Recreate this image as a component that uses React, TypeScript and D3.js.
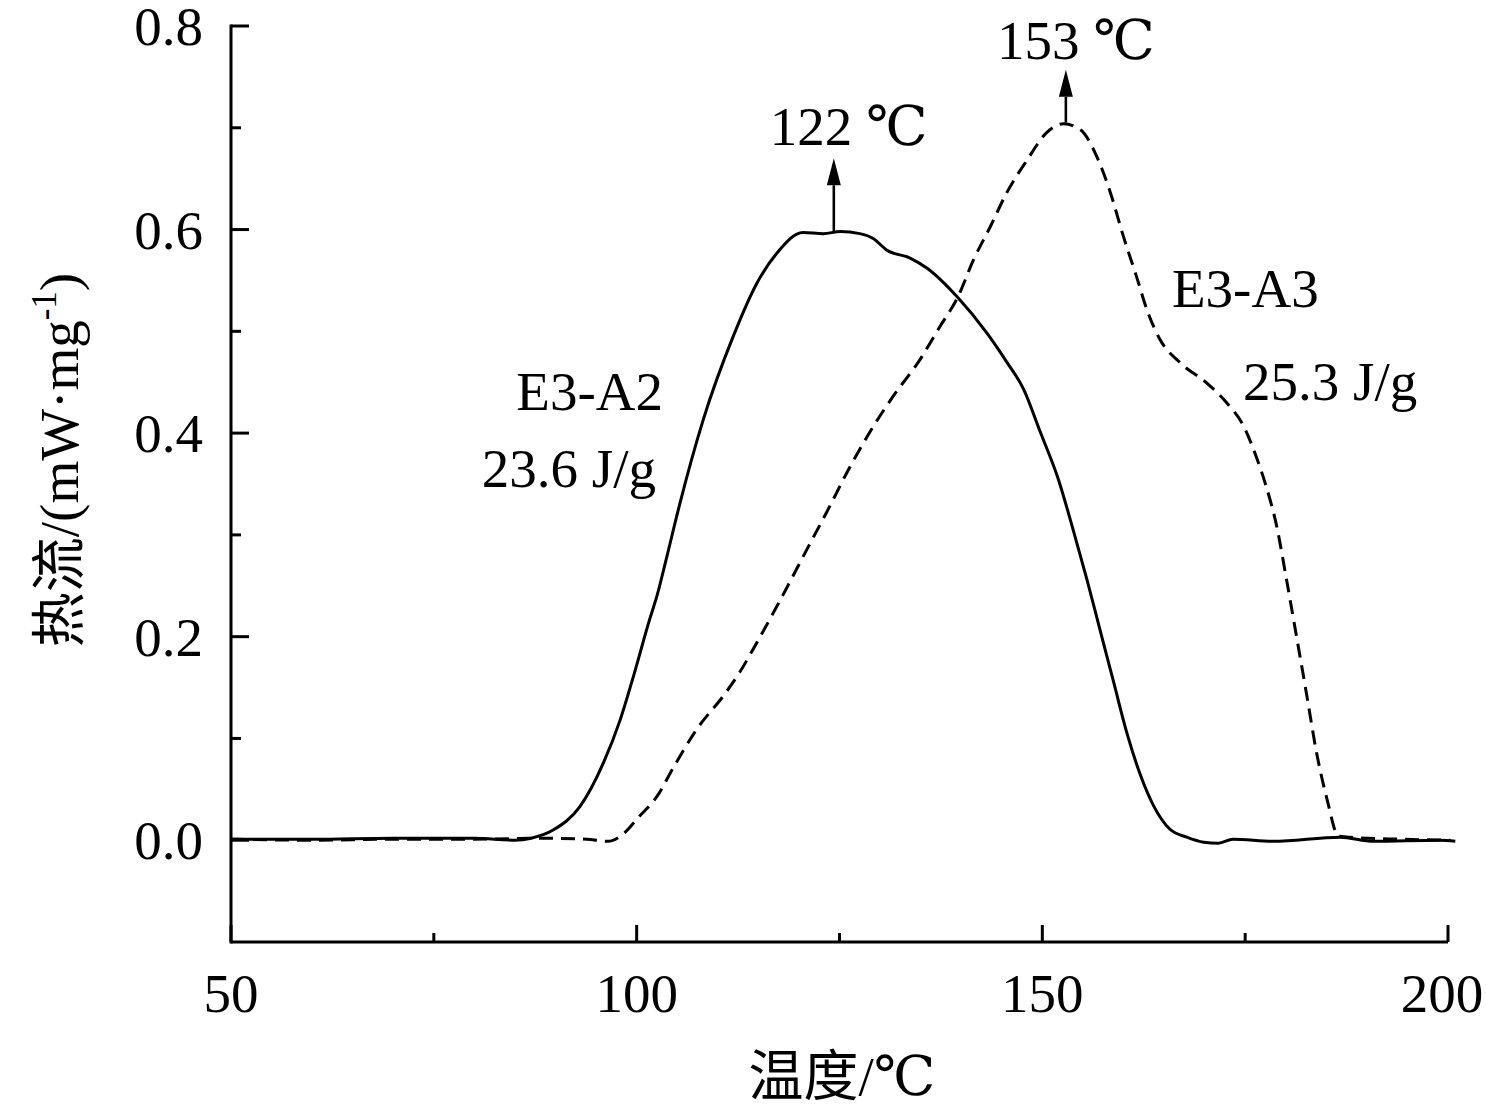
import React from 'react';
import * as d3 from 'd3';

// E3-A2 (solid) : temperature (°C), heat flow (mW/mg)
const a2Temp = [50, 60, 70, 80, 85, 87, 89.7, 93.0, 95.9, 98.0, 99.6, 101.6, 102.5, 103.7, 105.3, 108.2, 111.9, 114.8, 117.3, 120.5, 123.0, 125.1, 127.5, 129.2, 130.8, 133.7, 135.8, 139.5, 143.2, 145.6, 147.7, 149.7, 152.0, 153.8, 155.5, 157.1, 158.8, 160.4, 162.0, 163.7, 165.7, 167.8, 169.9, 171.7, 173.5, 178.5, 186.7, 190.8, 199.0, 200.9];
const a2Flow = [0.001, 0.001, 0.002, 0.002, 0.000, 0.002, 0.010, 0.033, 0.076, 0.119, 0.161, 0.217, 0.240, 0.278, 0.330, 0.413, 0.495, 0.547, 0.577, 0.597, 0.596, 0.598, 0.596, 0.591, 0.580, 0.572, 0.562, 0.534, 0.498, 0.470, 0.443, 0.402, 0.354, 0.305, 0.256, 0.207, 0.155, 0.106, 0.066, 0.034, 0.011, 0.003, -0.002, -0.003, 0.001, -0.001, 0.003, -0.001, 0.000, -0.001];

// E3-A3 (dashed)
const a3Temp = [50, 60, 70, 80, 88.1, 93.8, 96.5, 98.0, 100.4, 102.5, 104.5, 107.4, 110.7, 112.7, 114.8, 117.7, 121.0, 123.4, 126.3, 129.2, 131.6, 134.9, 137.4, 139.6, 141.5, 143.6, 145.6, 148.1, 150.5, 152.6, 154.7, 156.7, 158.4, 160.0, 161.6, 162.9, 164.5, 167.0, 170.3, 172.7, 174.8, 176.4, 177.5, 178.9, 180.1, 181.4, 182.6, 183.8, 185.1, 186.5, 187.9, 194.1, 200.3];
const a3Flow = [0.001, 0.000, 0.001, 0.001, 0.002, 0.001, -0.001, 0.004, 0.024, 0.043, 0.071, 0.109, 0.142, 0.165, 0.194, 0.236, 0.286, 0.322, 0.367, 0.407, 0.436, 0.472, 0.505, 0.534, 0.570, 0.603, 0.636, 0.668, 0.695, 0.704, 0.698, 0.672, 0.636, 0.593, 0.554, 0.521, 0.492, 0.469, 0.449, 0.430, 0.407, 0.376, 0.350, 0.308, 0.256, 0.197, 0.142, 0.086, 0.040, 0.004, 0.003, 0.001, 0.000];

const xMajor = [50, 100, 150, 200];
const xMinor = [75, 125, 175];
const yMajor = [0, 0.2, 0.4, 0.6, 0.8];
const yMinor = [0.1, 0.3, 0.5, 0.7];

// peak arrows: temperature, from, to (heat flow)
const peakLabels = ['122 ℃', '153 ℃'];
const peakArrowT = [124.3, 152.9];
const peakArrowFrom = [0.598, 0.705];
const peakArrowTo = [0.670, 0.757];

const W = 1486;
const H = 1113;
const serif = "'Liberation Serif', 'Times New Roman', 'DejaVu Serif', 'Noto Sans CJK SC', serif";
const FS = 55;

export default function App() {
  const x = d3.scaleLinear().domain([50, 200]).range([231, 1448]);
  const y = d3.scaleLinear().domain([-0.1, 0.8]).range([942, 26]);

  const line = d3.line<[number, number]>()
    .x(d => x(d[0]))
    .y(d => y(d[1]))
    .curve(d3.curveMonotoneX);

  const a2 = a2Temp.map((t, i) => [t, a2Flow[i]] as [number, number]);
  const a3 = a3Temp.map((t, i) => [t, a3Flow[i]] as [number, number]);

  const x0 = x(50);
  const yBottom = y(-0.1);

  return (
    <div style={{ position: 'absolute', left: 0, top: 0, background: '#fff' }}>
      <svg width={W} height={H} style={{ display: 'block' }} fontFamily={serif}>
        <rect width={W} height={H} fill="#fff" />

        {/* curves */}
        <path d={line(a2) || ''} fill="none" stroke="#000" strokeWidth={3} strokeLinejoin="round" />
        <path d={line(a3) || ''} fill="none" stroke="#000" strokeWidth={3} strokeDasharray="14,8" />

        {/* axes */}
        <line x1={x0} x2={x0} y1={y(0.8) - 1.5} y2={yBottom + 1.5} stroke="#000" strokeWidth={3} />
        <line x1={x0} x2={x(200)} y1={yBottom} y2={yBottom} stroke="#000" strokeWidth={3} />

        {yMajor.map(v => (
          <g key={'ym' + v}>
            <line x1={x0} x2={x0 + 18} y1={y(v)} y2={y(v)} stroke="#000" strokeWidth={3} />
            <text x={203} y={y(v)} dy="0.35em" textAnchor="end" fontSize={FS}>{v.toFixed(1)}</text>
          </g>
        ))}
        {yMinor.map(v => (
          <line key={'yn' + v} x1={x0} x2={x0 + 10} y1={y(v)} y2={y(v)} stroke="#000" strokeWidth={3} />
        ))}
        {xMajor.map(t => (
          <g key={'xm' + t}>
            <line x1={x(t)} x2={x(t)} y1={yBottom} y2={yBottom - 17} stroke="#000" strokeWidth={3} />
            <text x={t === 200 ? x(t) - 6 : x(t)} y={1012} textAnchor="middle" fontSize={FS}>{t}</text>
          </g>
        ))}
        {xMinor.map(t => (
          <line key={'xn' + t} x1={x(t)} x2={x(t)} y1={yBottom} y2={yBottom - 9} stroke="#000" strokeWidth={3} />
        ))}

        {/* peak arrows */}
        {peakArrowT.map((t, i) => {
          const ax = x(t);
          const tip = y(peakArrowTo[i]);
          const base = tip + 27;
          return (
            <g key={'arr' + i}>
              <line x1={ax} x2={ax} y1={y(peakArrowFrom[i])} y2={base} stroke="#000" strokeWidth={2.6} />
              <path d={`M${ax},${tip} L${ax - 7},${base} L${ax + 7},${base} Z`} fill="#000" />
            </g>
          );
        })}
        <text x={x(116.4)} y={y(0.683)} fontSize={FS}>{peakLabels[0]}</text>
        <text x={x(144.4)} y={y(0.768)} fontSize={FS}>{peakLabels[1]}</text>

        {/* sample labels */}
        <text x={663} y={410} textAnchor="end" fontSize={FS}>E3-A2</text>
        <text x={656} y={487} textAnchor="end" fontSize={FS}>23.6 J/g</text>
        <text x={1172} y={307} fontSize={FS}>E3-A3</text>
        <text x={1243} y={400} fontSize={FS}>25.3 J/g</text>

        {/* axis titles */}
        <text x={842} y={1095} textAnchor="middle" fontSize={FS}>温度/℃</text>
        <text transform="translate(78,460) rotate(-90)" textAnchor="middle" fontSize={FS}>
          热流/(mW·mg<tspan fontSize={35} dy={-22}>-1</tspan><tspan dy={22}>)</tspan>
        </text>
      </svg>
    </div>
  );
}
